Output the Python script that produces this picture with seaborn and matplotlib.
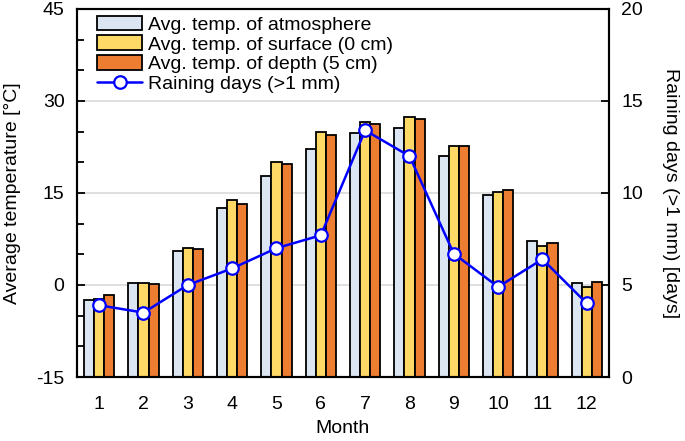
import numpy as np
import pandas as pd
import seaborn as sns
import matplotlib
matplotlib.use("Agg")
from matplotlib import pyplot as plt
from matplotlib.patches import Patch
from matplotlib.lines import Line2D
from matplotlib.ticker import MultipleLocator, FixedLocator

# data
months = [str(m) for m in range(1, 13)]
t_atmosphere = [-2.4, 0.4, 5.6, 12.5, 17.7, 22.1, 24.8, 25.6, 21.1, 14.7, 7.1, 0.4]
t_surface = [-2.3, 0.3, 6.0, 13.8, 20.1, 25.0, 26.5, 27.3, 22.6, 15.1, 6.3, -0.3]
t_depth = [-1.7, 0.2, 5.8, 13.2, 19.7, 24.5, 26.2, 27.1, 22.6, 15.4, 6.8, 0.5]
rain_days = [3.9, 3.5, 5.0, 5.9, 7.0, 7.7, 13.4, 12.0, 6.7, 4.9, 6.4, 4.0]

labels = ['Avg. temp. of atmosphere', 'Avg. temp. of surface (0 cm)',
          'Avg. temp. of depth (5 cm)']
colors = ['#dce6f2', '#ffd966', '#ed7d31']
rain_label = 'Raining days (>1 mm)'

df = pd.DataFrame({'month': months * 3,
                   'temp': t_atmosphere + t_surface + t_depth,
                   'kind': [labels[0]] * 12 + [labels[1]] * 12 + [labels[2]] * 12})

sns.set_style('white')
plt.rcParams['font.family'] = ['Liberation Sans', 'DejaVu Sans']
plt.rcParams['axes.unicode_minus'] = False
for k in ['text.color', 'axes.labelcolor', 'xtick.color', 'ytick.color']:
    plt.rcParams[k] = 'black'
fs = 14

fig = plt.figure(figsize=(6.85, 4.41), dpi=100)
ax = fig.add_axes([0.1124, 0.145, 0.7766, 0.835])

ymin = -15
sns.barplot(data=df, x='month', y='temp', hue='kind', palette=colors, saturation=1,
            width=0.68, gap=0, edgecolor='black', linewidth=1.3,
            legend=False, ax=ax)
# bars hang from the bottom of the axis, not from zero
for p in ax.patches:
    top = p.get_y() + p.get_height()
    p.set_y(ymin)
    p.set_height(top - ymin)

ax.set_ylim(ymin, 45)
ax.set_xlim(-0.5, 11.5)
ax.yaxis.set_major_locator(MultipleLocator(15))
ax.yaxis.set_minor_locator(MultipleLocator(5))
ax.xaxis.set_minor_locator(FixedLocator(np.arange(0.5, 11, 1)))
ax.grid(axis='y', which='major', color='#d9d9d9', linewidth=1.2)
ax.set_axisbelow(True)
ax.tick_params(axis='x', which='major', length=0, pad=14, labelsize=fs)
ax.tick_params(axis='x', which='minor', direction='in', length=5, width=1.3)
ax.tick_params(axis='y', which='both', direction='in', width=1.3, labelsize=fs, pad=9)
ax.tick_params(axis='y', which='major', length=6)
ax.tick_params(axis='y', which='minor', length=5)
ax.set_xlabel('Month', fontsize=fs, labelpad=5)
ax.set_ylabel('Average temperature [°C]', fontsize=fs, labelpad=11)
for s in ax.spines.values():
    s.set_linewidth(1.5)
    s.set_color('black')

ax2 = ax.twinx()
sns.lineplot(x=np.arange(12), y=rain_days, color='#0000ff', linewidth=1.8,
             marker='o', markersize=9, markerfacecolor='white',
             markeredgecolor='#0000ff', markeredgewidth=1.6, ax=ax2)
ax2.set_ylim(0, 20)
ax2.yaxis.set_major_locator(MultipleLocator(5))
ax2.tick_params(axis='y', direction='in', length=6, width=1.3, labelsize=fs, pad=9)
ax2.set_ylabel('Raining days (>1 mm) [days]', rotation=270, labelpad=26, fontsize=fs)
for s in ax2.spines.values():
    s.set_linewidth(1.5)
    s.set_color('black')

handles = [Patch(facecolor=c, edgecolor='black', linewidth=1.3) for c in colors]
handles.append(Line2D([], [], color='#0000ff', linewidth=1.8, marker='o', markersize=9,
                      markerfacecolor='white', markeredgecolor='#0000ff',
                      markeredgewidth=1.6))
ax2.legend(handles, labels + [rain_label], loc='upper left', bbox_to_anchor=(0.02, 1.008),
           frameon=False, fontsize=fs, handlelength=2.3, handleheight=0.8,
           labelspacing=0.08, handletextpad=0.3, borderaxespad=0.1)

fig.savefig('out.png', dpi=100)
